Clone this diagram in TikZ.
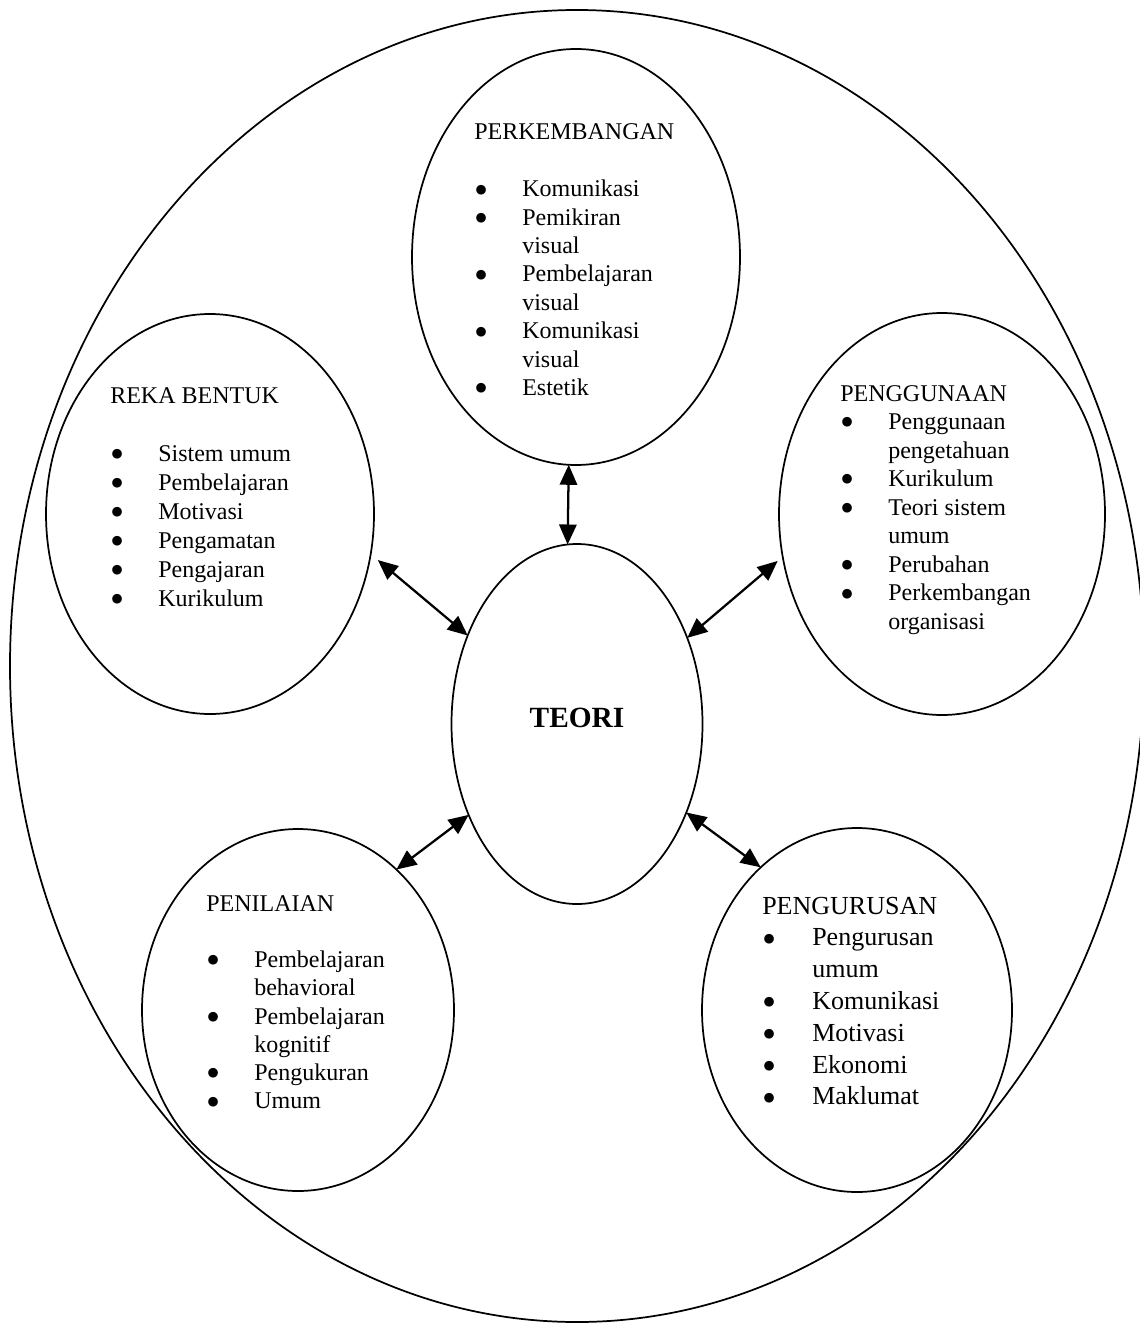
\documentclass[tikz,border=0pt]{standalone}
\usepackage{fontspec}
\setmainfont{Liberation Serif}
\newfontfamily\dotfont{DejaVu Sans}
\usetikzlibrary{shapes.geometric,arrows.meta}
\newcommand{\bigbul}{\raisebox{2.8pt}{\dotfont\fontsize{9.5pt}{10pt}\selectfont ●}}
\newcommand{\bu}{\makebox[36pt][l]{\hspace{1pt}\bigbul}}
\newcommand{\ind}{\hspace{36pt}}
\newcommand{\bub}{\makebox[37.5pt][l]{\hspace{1pt}\bigbul}}
\newcommand{\indb}{\hspace{37.5pt}}
\begin{document}
\begin{tikzpicture}[x=0.75pt,y=-0.75pt,
  ell/.style={draw, ellipse, line width=1.3pt, inner sep=0pt, outer sep=0pt},
  blk/.style={anchor=base west, inner sep=0pt},
  link/.style={{Triangle[length=15pt,width=13pt]}-{Triangle[length=15pt,width=13pt]}, line width=1.7pt},
]
\useasboundingbox (0,0) rectangle (1139,1323);

% ellipses
\node[ell, minimum width=850.5pt, minimum height=984pt] (outer) at (577,666) {};
\node[ell, minimum width=246pt, minimum height=312pt] (pk) at (576,257) {};
\node[ell, minimum width=246pt, minimum height=300pt] (rb) at (210,514) {};
\node[ell, minimum width=244.5pt, minimum height=301.5pt] (pg) at (942,514) {};
\node[ell, minimum width=188.25pt, minimum height=270pt] (tr) at (577,724) {};
\node[ell, minimum width=234pt, minimum height=271.5pt] (pn) at (298,1010) {};
\node[ell, minimum width=232.5pt, minimum height=273pt] (pr) at (857,1010) {};

% centre label
\node[font=\fontsize{22pt}{26pt}\selectfont\bfseries, inner sep=0pt] (trtext) at (577,718) {TEORI};

% text blocks
\node[blk, font=\fontsize{18pt}{21.3pt}\selectfont] (pktext) at (474,140) {\begin{tabular}[t]{@{}l@{}}PERKEMBANGAN\\ \\
\bu Komunikasi\\ \bu Pemikiran\\ \ind visual\\ \bu Pembelajaran\\ \ind visual\\ \bu Komunikasi\\ \ind visual\\ \bu Estetik\end{tabular}};

\node[blk, font=\fontsize{18pt}{21.75pt}\selectfont] (rbtext) at (110,403) {\begin{tabular}[t]{@{}l@{}}REKA BENTUK\\ \\
\bu Sistem umum\\ \bu Pembelajaran\\ \bu Motivasi\\ \bu Pengamatan\\ \bu Pengajaran\\ \bu Kurikulum\end{tabular}};

\node[blk, font=\fontsize{18pt}{21.4pt}\selectfont] (pgtext) at (840,401) {\begin{tabular}[t]{@{}l@{}}PENGGUNAAN\\
\bu Penggunaan\\ \ind pengetahuan\\ \bu Kurikulum\\ \bu Teori sistem\\ \ind umum\\ \bu Perubahan\\ \bu Perkembangan\\ \ind organisasi\end{tabular}};

\node[blk, font=\fontsize{18pt}{21.2pt}\selectfont] (pntext) at (206,911) {\begin{tabular}[t]{@{}l@{}}PENILAIAN\\ \\
\bu Pembelajaran\\ \ind behavioral\\ \bu Pembelajaran\\ \ind kognitif\\ \bu Pengukuran\\ \bu Umum\end{tabular}};

\node[blk, font=\fontsize{19.5pt}{23.85pt}\selectfont] (prtext) at (762,914) {\begin{tabular}[t]{@{}l@{}}PENGURUSAN\\
\bub Pengurusan\\ \indb umum\\ \bub Komunikasi\\ \bub Motivasi\\ \bub Ekonomi\\ \bub Maklumat\end{tabular}};

% connectors
\draw[link] (pk.-92.75) -- (tr.93.5);
\draw[link, shorten <=7pt] (rb.-14.9) -- (tr.141.2);
\draw[link, shorten <=5pt] (pg.-165.1) -- (tr.38.8);
\draw[link] (pn.55.9) -- (tr.-140.6);
\draw[link] (pr.124.4) -- (tr.-39.2);
\end{tikzpicture}
\end{document}
